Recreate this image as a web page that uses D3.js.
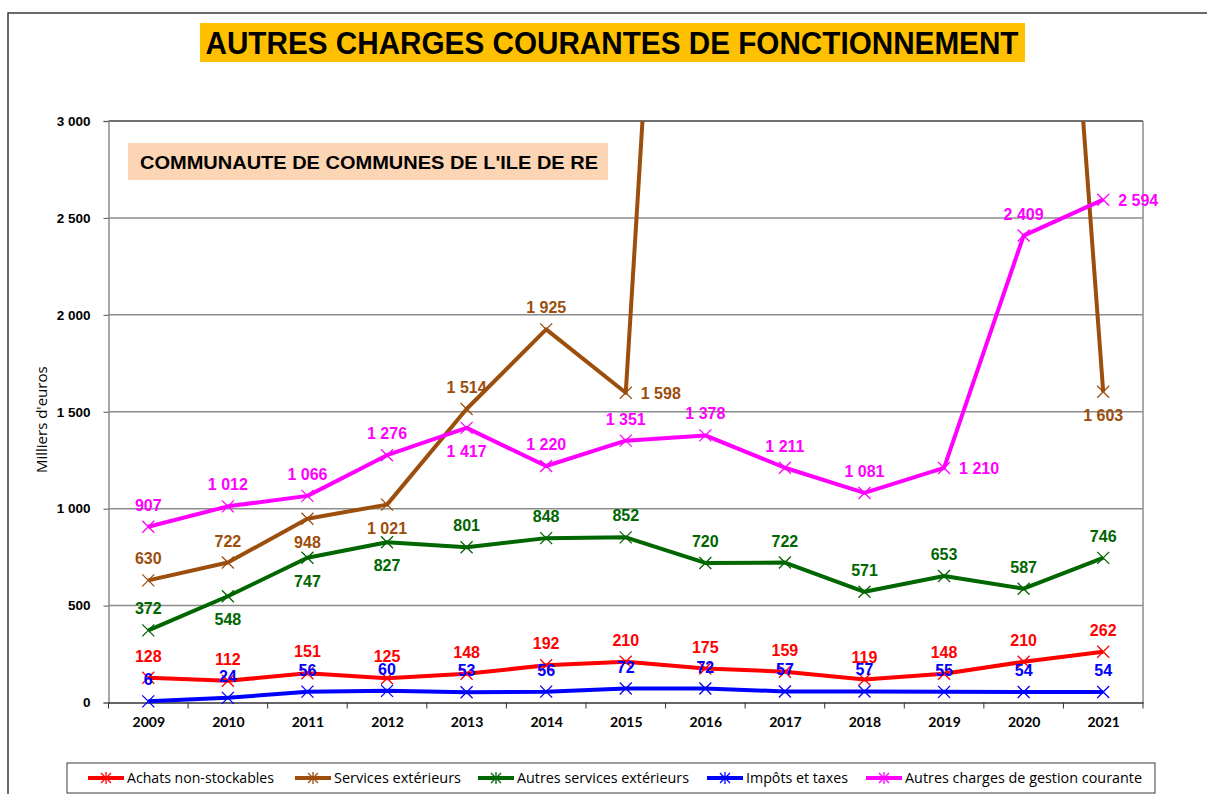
<!DOCTYPE html>
<html>
<head>
<meta charset="utf-8">
<script src="https://cdn.jsdelivr.net/npm/d3@7"></script>
<style>
  html, body { margin: 0; padding: 0; background: #fff; }
  svg { display: block; }
</style>
</head>
<body>
<svg id="chart" width="1207" height="794"></svg>
<script>
// Categories and tick values
const years = ["2009","2010","2011","2012","2013","2014","2015","2016","2017","2018","2019","2020","2021"];
const yTicks = [0, 500, 1000, 1500, 2000, 2500, 3000];

// Series values (milliers d'euros)
const achats = [128, 112, 151, 125, 148, 192, 210, 175, 159, 119, 148, 210, 262];
const servicesExt = [630, 722, 948, 1021, 1514, 1925, 1598, 8270, 8000, 7800, 7500, 7160, 1603];
const autresServices = [372, 548, 747, 827, 801, 848, 852, 720, 722, 571, 653, 587, 746];
const impots = [6, 24, 56, 60, 53, 56, 72, 72, 57, 57, 55, 54, 54];
const gestion = [907, 1012, 1066, 1276, 1417, 1220, 1351, 1378, 1211, 1081, 1210, 2409, 2594];

const seriesNames = ["Achats non-stockables", "Services extérieurs", "Autres services extérieurs", "Impôts et taxes", "Autres charges de gestion courante"];

// Label placement per point: t = above, b = below, r = right
const placeAchats = Array(13).fill("t");
const placeServices = ["t","t","b","b","t","t","r","t","t","t","t","t","b"];
const placeAutres = ["t","b","b","b","t","t","t","t","t","t","t","t","t"];
const placeImpots = Array(13).fill("t");
const placeGestion = ["t","t","t","t","b","t","t","t","t","t","r","t","r"];

const series = [
  { name: seriesNames[1], values: servicesExt, color: "#9C4E0C", place: placeServices },
  { name: seriesNames[4], values: gestion, color: "#FF00FF", place: placeGestion },
  { name: seriesNames[2], values: autresServices, color: "#006600", place: placeAutres },
  { name: seriesNames[0], values: achats, color: "#FF0000", place: placeAchats },
  { name: seriesNames[3], values: impots, color: "#0000FF", place: placeImpots }
];
const legendOrder = [3, 0, 2, 4, 1];

const svg = d3.select("#chart");
const fmt = v => d3.format(",")(v).replace(/,/g, " ");

// Outer frame
svg.append("rect").attr("x", 8).attr("y", 13).attr("width", 1200).attr("height", 800)
  .attr("fill", "none").attr("stroke", "#3a3a3a").attr("stroke-width", 1.5);

// Title
svg.append("rect").attr("x", 200).attr("y", 23).attr("width", 825).attr("height", 39).attr("fill", "#FFC000");
svg.append("text").attr("x", 612).attr("y", 54).attr("text-anchor", "middle")
  .attr("font-family", "'Liberation Sans Narrow', 'Arial Narrow', 'Liberation Sans', Arial, sans-serif")
  .attr("font-weight", "bold").attr("font-size", 31)
  .attr("textLength", 813).attr("lengthAdjust", "spacingAndGlyphs")
  .attr("fill", "#000").text("AUTRES CHARGES COURANTES DE FONCTIONNEMENT");

// Scales
const plotLeft = 108.5, plotRight = 1143, plotTop = 121, plotBottom = 702.5;
const x = d3.scalePoint().domain(years).range([plotLeft, plotRight]).padding(0.5);
const step = x.step();
const y = d3.scaleLinear().domain([0, 3000]).range([plotBottom, plotTop]);

// Grid lines
svg.append("g").selectAll("line").data(yTicks.filter(t => t > 0)).join("line")
  .attr("x1", plotLeft).attr("x2", plotRight).attr("y1", d => y(d)).attr("y2", d => y(d))
  .attr("stroke", d => d === 3000 ? "#404040" : "#8c8c8c").attr("stroke-width", 1.5);

// Right border
svg.append("line").attr("x1", plotRight).attr("x2", plotRight).attr("y1", plotTop).attr("y2", plotBottom)
  .attr("stroke", "#8c8c8c").attr("stroke-width", 1.5);

// Y axis
const yAxis = svg.append("g").attr("transform", `translate(${plotLeft},0)`)
  .call(d3.axisLeft(y).tickValues(yTicks).tickSize(5).tickFormat(fmt));
yAxis.select(".domain").attr("stroke", "#8c8c8c").attr("stroke-width", 1.5);
yAxis.selectAll(".tick line").attr("stroke", "#555");
yAxis.selectAll("text").attr("font-family", "'Liberation Sans', Arial, sans-serif")
  .attr("font-weight", "bold").attr("font-size", 13.5).attr("fill", "#000").attr("dx", -10);

svg.append("text").attr("transform", `translate(47,${(plotTop + plotBottom) / 2 + 8}) rotate(-90)`)
  .attr("text-anchor", "middle").attr("font-family", "'Open Sans', 'Liberation Sans', sans-serif")
  .attr("font-size", 15).attr("fill", "#000").text("Milliers d'euros");

// X axis with ticks at category boundaries
const xAxis = svg.append("g").attr("transform", `translate(0,${plotBottom})`)
  .call(d3.axisBottom(x).tickSize(0).tickPadding(15));
xAxis.select(".domain").attr("stroke", "#333").attr("stroke-width", 1.5);
xAxis.selectAll("text").attr("font-family", "Lato, 'Liberation Sans', sans-serif")
  .attr("font-weight", "bold").attr("font-size", 14).attr("fill", "#000");
xAxis.append("g").selectAll("line").data(d3.range(years.length + 1)).join("line")
  .attr("x1", i => plotLeft + i * step).attr("x2", i => plotLeft + i * step)
  .attr("y1", 0).attr("y2", 6).attr("stroke", "#333").attr("stroke-width", 1);

// Subtitle box
svg.append("rect").attr("x", 128).attr("y", 143).attr("width", 480).attr("height", 37).attr("fill", "#FCD5B5");
svg.append("text").attr("x", 369).attr("y", 168.5).attr("text-anchor", "middle")
  .attr("font-family", "'Liberation Sans', Arial, sans-serif").attr("font-weight", "bold")
  .attr("font-size", 19).attr("textLength", 458).attr("lengthAdjust", "spacingAndGlyphs")
  .attr("fill", "#000").text("COMMUNAUTE DE COMMUNES DE L'ILE DE RE");

// Plot clip
svg.append("clipPath").attr("id", "plotClip").append("rect")
  .attr("x", plotLeft - 10).attr("y", plotTop).attr("width", plotRight - plotLeft + 20).attr("height", plotBottom - plotTop + 10);

const line = d3.line().x((d, i) => x(years[i])).y(d => y(d));
const plot = svg.append("g").attr("clip-path", "url(#plotClip)");

const cross = (g, size, color, w) => {
  g.append("path").attr("d", `M${-size},${-size}L${size},${size}M${-size},${size}L${size},${-size}`)
    .attr("stroke", color).attr("stroke-width", w).attr("fill", "none");
};

series.forEach(s => {
  plot.append("path").datum(s.values).attr("d", line)
    .attr("fill", "none").attr("stroke", s.color).attr("stroke-width", 4).attr("stroke-linejoin", "round");
});

series.forEach(s => {
  s.values.forEach((v, i) => {
    if (v > 3000) return;
    const g = plot.append("g").attr("transform", `translate(${x(years[i])},${y(v)})`);
    cross(g, 6, s.color, 1.3);
  });
});

// Data labels
const labels = svg.append("g").attr("font-family", "'Liberation Sans', Arial, sans-serif")
  .attr("font-weight", "bold").attr("font-size", 16);
series.forEach(s => {
  s.values.forEach((v, i) => {
    if (v > 3000) return;
    const px = x(years[i]), py = y(v), p = s.place[i];
    const t = labels.append("text").attr("fill", s.color).text(fmt(v));
    if (p === "t") t.attr("x", px).attr("y", py - 16).attr("text-anchor", "middle");
    else if (p === "b") t.attr("x", px).attr("y", py + 29).attr("text-anchor", "middle");
    else t.attr("x", px + 15).attr("y", py + 6).attr("text-anchor", "start");
  });
});

// Legend
svg.append("rect").attr("x", 67).attr("y", 763).attr("width", 1088).attr("height", 30)
  .attr("fill", "#fff").attr("stroke", "#3a3a3a").attr("stroke-width", 1);
const legendX = [88, 295, 478, 707, 866];
const legendW = [147, 127, 172, 102, 237];
legendOrder.forEach((si, k) => {
  const s = series[si];
  const g = svg.append("g").attr("transform", `translate(${legendX[k]},778)`);
  g.append("line").attr("x1", 0).attr("x2", 36).attr("stroke", s.color).attr("stroke-width", 4);
  const m = g.append("g").attr("transform", "translate(18,0)");
  cross(m, 5, s.color, 1.3);
  m.append("line").attr("y1", -6).attr("y2", 6).attr("stroke", s.color).attr("stroke-width", 1.3);
  g.append("text").attr("x", 39).attr("y", 5)
    .attr("font-family", "'Liberation Sans Narrow', 'Open Sans', sans-serif").attr("font-size", 14)
    .attr("textLength", legendW[k]).attr("lengthAdjust", "spacingAndGlyphs")
    .attr("fill", "#000").text(s.name);
});
</script>
</body>
</html>
